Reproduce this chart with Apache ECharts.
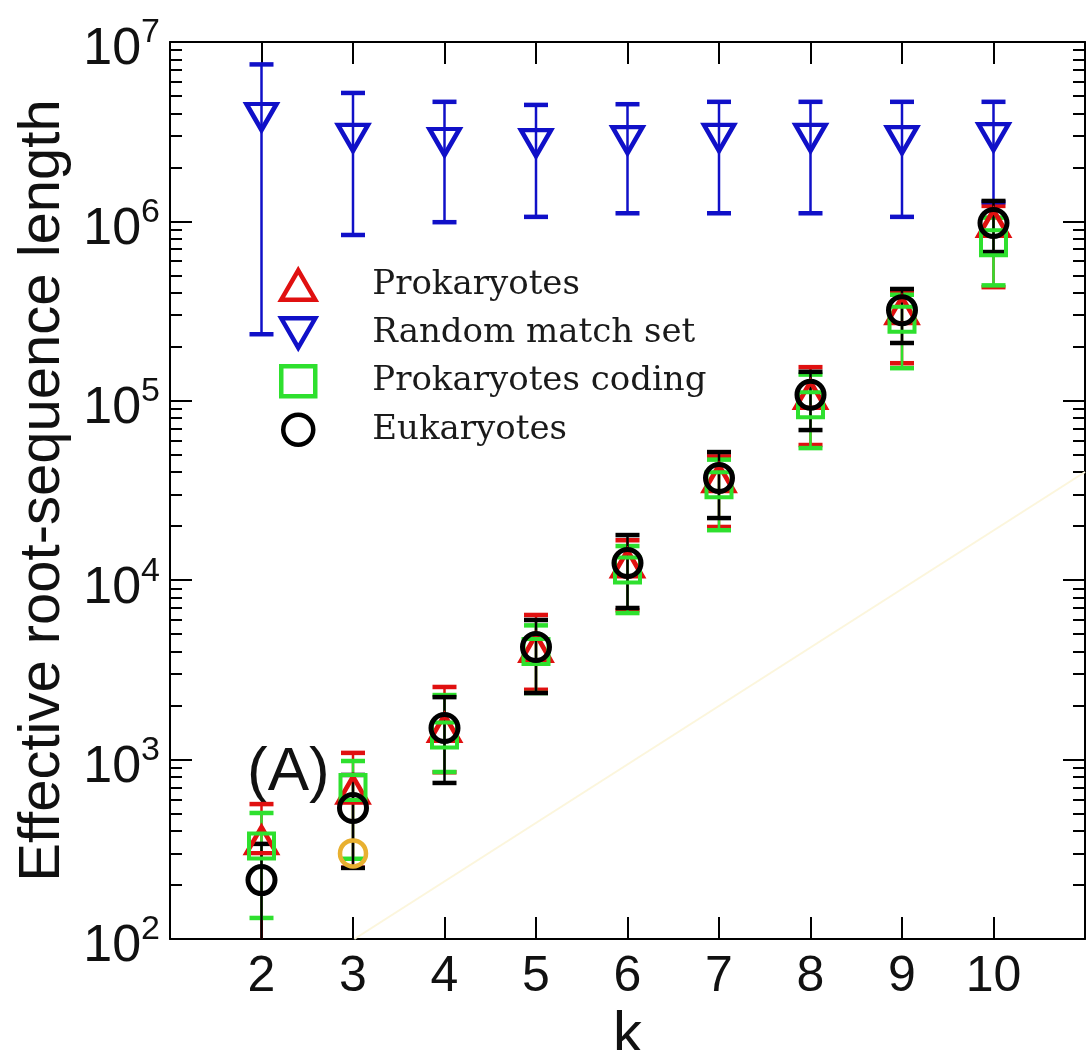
<!DOCTYPE html>
<html>
<head>
<meta charset="utf-8">
<script src="https://cdn.jsdelivr.net/npm/echarts@6/dist/echarts.min.js"></script>
<style>html,body{margin:0;padding:0;background:#fff;}#chart{width:1092px;height:1050px;}</style>
</head>
<body>
<div id="chart"></div>
<script>
// ---- data ----
const kValues = [2, 3, 4, 5, 6, 7, 8, 9, 10];

const prokMid  = [356, 680, 1500, 4200, 12400, 37000, 108000, 320000, 980000];
const prokHigh = [565, 1090, 2540, 6400, 16700, 49000, 154000, 400000, 1220000];
const prokLow  = [90, 250, 850, 2450, 6800, 19800, 56700, 162000, 430000];

const randMid  = [3820000, 2920000, 2770000, 2730000, 2840000, 2920000, 2920000, 2840000, 2950000];
const randHigh = [7500000, 5200000, 4640000, 4460000, 4500000, 4640000, 4640000, 4640000, 4640000];
const randLow  = [235000, 840000, 990000, 1060000, 1110000, 1110000, 1110000, 1060000, 1280000];

const codMid  = [330, 700, 1370, 4000, 11400, 34000, 95000, 285000, 760000];
const codHigh = [504, 982, 2290, 5600, 15500, 47000, 140000, 390000, 1050000];
const codLow  = [131, 280, 853, 2350, 6560, 19000, 54500, 152000, 440000];

const eukMid  = [213, 537, 1500, 4240, 12470, 37100, 108000, 320000, 980000];
const eukHigh = [339, 821, 2230, 6000, 17850, 51800, 145000, 420000, 1300000];
const eukLow  = [60, 249, 741, 2350, 7000, 22200, 68700, 210000, 675000];

const extraK = [3];
const extraMid = [300];

const fitK = [3.015, 11];
const fitVal = [100, 40100];

const xTickLabels = [2, 3, 4, 5, 6, 7, 8, 9, 10];
const yDecades = [2, 3, 4, 5, 6, 7];
const minorMultipliers = [2, 3, 4, 5, 6, 7, 8, 9];

const seriesNames = ['Prokaryotes', 'Random match set', 'Prokaryotes coding', 'Eukaryotes'];

// ---- helpers ----
const minorLogPositions = [];
yDecades.slice(0, -1).forEach(d => minorMultipliers.forEach(m => minorLogPositions.push(Math.log10(m) + d)));

function pts(xs, ys) { return xs.map((x, i) => [x, ys[i]]); }
function bars(xs, lo, hi) { return xs.map((x, i) => [x, lo[i], hi[i]]); }

function errSeries(color, data) {
  return {
    type: 'custom', data: data, clip: true, silent: true,
    xAxisIndex: 0, yAxisIndex: 0,
    dimensions: ['k', 'low', 'high'],
    encode: { x: 'k', y: ['low', 'high'] },
    renderItem: function (params, api) {
      const x = api.value('k'), lo = api.value('low'), hi = api.value('high');
      const a = api.coord([x, lo]), b = api.coord([x, hi]);
      const hw = 12;
      return { type: 'group', children: [
        { type: 'line', shape: { x1: a[0], y1: a[1], x2: b[0], y2: b[1] }, style: { stroke: color, lineWidth: 2.5 } },
        { type: 'line', shape: { x1: a[0] - hw, y1: a[1], x2: a[0] + hw, y2: a[1] }, style: { stroke: color, lineWidth: 4.5 } },
        { type: 'line', shape: { x1: b[0] - hw, y1: b[1], x2: b[0] + hw, y2: b[1] }, style: { stroke: color, lineWidth: 4.5 } }
      ]};
    }
  };
}

function ptSeries(name, color, symbol, size, bw, data) {
  return {
    type: 'scatter', name: name, data: data, symbol: symbol, symbolSize: size,
    xAxisIndex: 0, yAxisIndex: 0, silent: true,
    itemStyle: { color: 'rgba(0,0,0,0)', borderColor: color, borderWidth: bw, opacity: 1 }
  };
}

const RED = '#e01010', BLUE = '#1010c8', GREEN = '#2ee02e', BLACK = '#000000', ORANGE = '#e8b030';
const downTri = 'path://M0,0 L20,0 L10,17.32 Z';
const upTri = 'path://M10,0 L20,17.32 L0,17.32 Z';

const axisLineStyle = { show: true, onZero: false, lineStyle: { color: '#000', width: 2 } };
const tickFont = 'Liberation Sans, Arial, sans-serif';

const option = {
  animation: false,
  backgroundColor: '#fff',
  grid: { left: 170, top: 42, width: 915, height: 897, outerBoundsMode: 'none', containLabel: false },
  legend: {
    orient: 'vertical', left: 274, top: 263,
    itemWidth: 34, itemHeight: 30, itemGap: 14,
    data: seriesNames,
    selectedMode: false,
    itemStyle: { borderWidth: 4.5 },
    textStyle: { fontFamily: 'DejaVu Serif, serif', fontSize: 34, color: '#1a1a1a', padding: [0, 0, 0, 52], lineHeight: 34 }
  },
  graphic: [{
    type: 'text', left: 247, top: 742,
    style: { text: '(A)', fontSize: 62, fontFamily: tickFont, fill: '#111' }
  }],
  xAxis: [
    {
      type: 'value', min: 1, max: 11, position: 'bottom',
      axisLine: axisLineStyle,
      axisTick: { show: true, inside: true, length: 22, customValues: xTickLabels, lineStyle: { color: '#000', width: 2 } },
      axisLabel: { customValues: xTickLabels, fontSize: 50, fontFamily: tickFont, color: '#111', margin: 13 },
      splitLine: { show: false },
      name: 'k', nameLocation: 'middle', nameGap: 46,
      nameTextStyle: { fontSize: 58, fontFamily: tickFont, color: '#111' }
    },
    {
      type: 'value', min: 1, max: 11, position: 'top',
      axisLine: axisLineStyle,
      axisTick: { show: true, inside: true, length: 22, customValues: xTickLabels, lineStyle: { color: '#000', width: 2 } },
      axisLabel: { show: false },
      splitLine: { show: false }
    }
  ],
  yAxis: [
    {
      type: 'log', logBase: 10, min: 100, max: 10000000, position: 'left',
      axisLine: axisLineStyle,
      axisTick: { show: true, inside: true, length: 22, lineStyle: { color: '#000', width: 2 } },
      axisLabel: {
        margin: 10,
        formatter: function (v) { return '{b|10}{s|' + Math.round(Math.log10(v)) + '}'; },
        rich: {
          b: { fontSize: 52, fontFamily: tickFont, color: '#111', padding: [16, 0, 0, 0] },
          s: { fontSize: 34, fontFamily: tickFont, color: '#111', verticalAlign: 'top', padding: [8, 0, 0, 0] }
        }
      },
      splitLine: { show: false },
      name: 'Effective root-sequence length', nameLocation: 'middle', nameGap: 85,
      nameTextStyle: { fontSize: 58, fontFamily: tickFont, color: '#111' }
    },
    {
      type: 'log', logBase: 10, min: 100, max: 10000000, position: 'right',
      axisLine: axisLineStyle,
      axisTick: { show: true, inside: true, length: 22, lineStyle: { color: '#000', width: 2 } },
      axisLabel: { show: false },
      splitLine: { show: false }
    },
    {
      type: 'value', min: 2, max: 7, position: 'left',
      axisLine: { show: false },
      axisTick: { show: true, inside: true, length: 12, customValues: minorLogPositions, lineStyle: { color: '#000', width: 2 } },
      axisLabel: { show: false },
      splitLine: { show: false }
    },
    {
      type: 'value', min: 2, max: 7, position: 'right',
      axisLine: { show: false },
      axisTick: { show: true, inside: true, length: 12, customValues: minorLogPositions, lineStyle: { color: '#000', width: 2 } },
      axisLabel: { show: false },
      splitLine: { show: false }
    }
  ],
  series: [
    {
      type: 'line', name: 'fit', data: pts(fitK, fitVal), xAxisIndex: 0, yAxisIndex: 0,
      symbol: 'none', silent: true, lineStyle: { color: '#fcf6dc', width: 2 }
    },
    ptSeries('extra', ORANGE, 'circle', 26, 4.5, pts(extraK, extraMid)),
    errSeries(RED, bars(kValues, prokLow, prokHigh)),
    ptSeries(seriesNames[0], RED, upTri, [30, 26], 4.5, pts(kValues, prokMid)),
    errSeries(BLUE, bars(kValues, randLow, randHigh)),
    ptSeries(seriesNames[1], BLUE, downTri, [30, 26], 4.5, pts(kValues, randMid)),
    errSeries(GREEN, bars(kValues, codLow, codHigh)),
    ptSeries(seriesNames[2], GREEN, 'rect', 25, 4, pts(kValues, codMid)),
    errSeries(BLACK, bars(kValues, eukLow, eukHigh)),
    ptSeries(seriesNames[3], BLACK, 'circle', 27, 5, pts(kValues, eukMid))
  ]
};

const chart = echarts.init(document.getElementById('chart'), null, { renderer: 'canvas' });
chart.setOption(option);
</script>
</body>
</html>
